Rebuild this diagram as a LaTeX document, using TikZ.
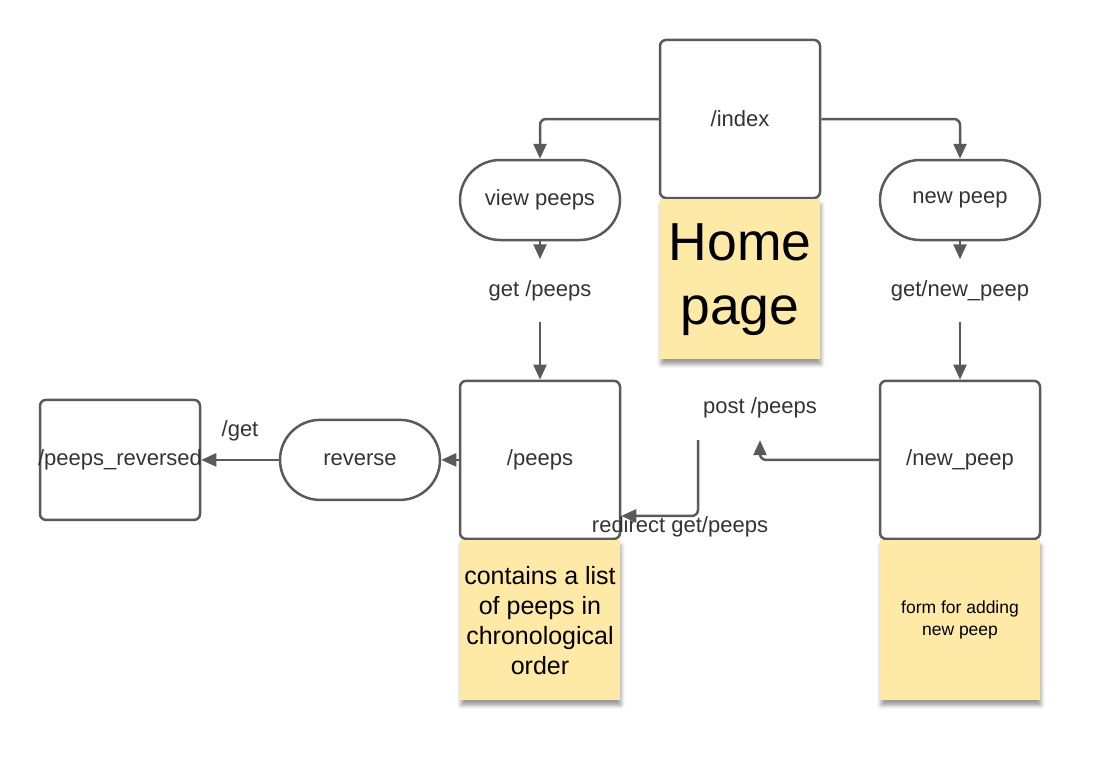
\documentclass[tikz,border=0pt]{standalone}
\usepackage{fontspec}
\setmainfont{Liberation Sans}
\usetikzlibrary{arrows.meta,positioning,shadows.blur}
\definecolor{linegray}{RGB}{90,90,90}
\definecolor{textgray}{RGB}{51,51,51}
\definecolor{stickyyellow}{RGB}{255,233,166}

\begin{document}
\begin{tikzpicture}[x=1pt,y=-1pt,->,>={Triangle[length=15pt,width=13pt]},
        every edge/.append style={draw=linegray,line width=2.5pt},
        link/.style={draw=linegray,line width=2.5pt,rounded corners=6pt},
        page/.style={draw=linegray,line width=2.5pt,rounded corners=6pt,
            minimum width=160pt,minimum height=158pt,text=textgray,
            font=\fontsize{22}{26}\selectfont},
        pill/.style={draw=linegray,line width=2.5pt,rounded corners=40pt,
            minimum width=160pt,minimum height=80pt,text=textgray,
            font=\fontsize{22}{26}\selectfont},
        note/.style={fill=stickyyellow,minimum width=160pt,minimum height=160pt,
            align=center,inner sep=0pt,
            blur shadow={shadow xshift=1pt,shadow yshift=-5pt,
                shadow blur radius=4pt,shadow opacity=40}},
        tag/.style={text=textgray,font=\fontsize{22}{26}\selectfont},
        lbl/.style={tag,minimum height=62pt}]

  \useasboundingbox (0,0) rectangle (1120,760);

  \node[page] (index) at (740,119) {/index};
  \node[note,font=\fontsize{53.5}{64}\selectfont] (home) [below=0pt of index] {Home\\page};
  \node[pill] (view) at (540,200) {view peeps};
  \node[pill] (newp) at (960,200) {new peep};
  \node[lbl] (getp) [below=18pt of view] {get /peeps};
  \node[lbl] (getnp) [below=18pt of newp] {get/new\_peep};
  \node[page] (peeps) [below=58pt of getp] {/peeps};
  \node[page] (newpage) [below=58pt of getnp] {/new\_peep};
  \node[note,font=\fontsize{25}{30}\selectfont] (list) [below=0pt of peeps]
      {contains a list\\of peeps in\\chronological\\order};
  \node[note,font=\fontsize{17.5}{22}\selectfont] (form) [below=0pt of newpage]
      {form for adding\\new peep};
  \node[pill] (rev) [left=17.5pt of peeps] {reverse};
  \node[page,minimum height=120pt] (revpage) [left=77.5pt of rev]
      {\makebox[0pt]{/peeps\_reversed}};
  \node[lbl,minimum height=64pt] (post) at (760,408) {post /peeps};
  \node[tag] (redirlbl) at (680,527) {redirect get/peeps};
  \coordinate (redir) at (698,440);

  \draw[link] (index.west) -| (view.north);
  \draw[link] (index.east) -| (newp.north);
  \path (view) edge (getp)
        (getp) edge (peeps)
        (newp) edge (getnp)
        (getnp) edge (newpage)
        (peeps) edge (rev)
        (rev) edge node[tag,above=14pt] {/get} (revpage);
  \draw[link] (newpage.west) -| (post.south);
  \draw[link] (redir) |- ([yshift=-56pt]peeps.east);

\end{tikzpicture}
\end{document}
